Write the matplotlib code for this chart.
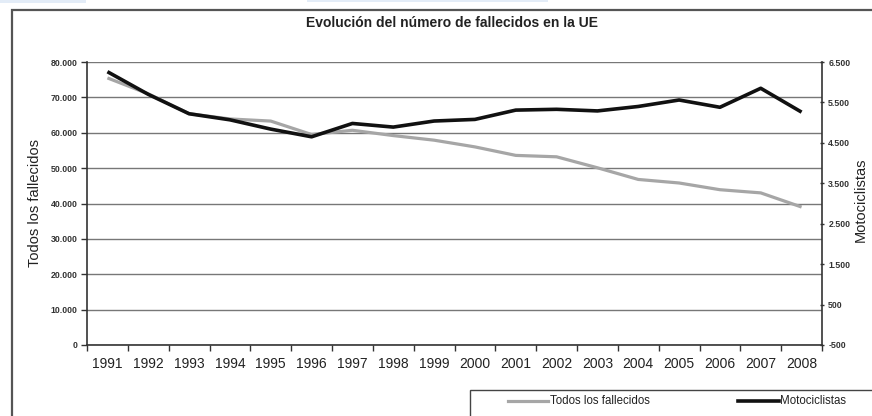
import numpy as np
import matplotlib
matplotlib.use('Agg')
import matplotlib.pyplot as plt
from matplotlib.patches import Rectangle
from matplotlib.lines import Line2D

plt.rcParams['font.family'] = ['Liberation Sans', 'DejaVu Sans']

# data
years = ['1991', '1992', '1993', '1994', '1995', '1996', '1997', '1998', '1999',
         '2000', '2001', '2002', '2003', '2004', '2005', '2006', '2007', '2008']
todos = [75500, 71000, 65400, 63900, 63300, 59500, 60700, 59200, 57900,
         56000, 53600, 53200, 50100, 46800, 45800, 43900, 43000, 39000]
moto = [6260, 5700, 5220, 5070, 4840, 4650, 4980, 4890, 5040,
        5080, 5310, 5330, 5290, 5400, 5560, 5380, 5850, 5260]

left_ticks = [0, 10000, 20000, 30000, 40000, 50000, 60000, 70000, 80000]
left_labels = ['0', '10.000', '20.000', '30.000', '40.000', '50.000', '60.000', '70.000', '80.000']
right_ticks = [-500, 500, 1500, 2500, 3500, 4500, 5500, 6500]
right_labels = ['-500', '500', '1.500', '2.500', '3.500', '4.500', '5.500', '6.500']

W, H = 872, 416
fig = plt.figure(figsize=(W / 100, H / 100), dpi=100)

def fx(px):
    return px / W

def fy(py):
    return 1 - py / H

# outer frame of the chart
fig.add_artist(Rectangle((fx(11.5), fy(430)), fx(880) - fx(11.5), fy(10) - fy(430),
                         transform=fig.transFigure, fill=False, edgecolor='#555555', lw=1.6))
# page bits at the very top
fig.add_artist(Rectangle((0, fy(3)), fx(86), fy(0) - fy(3), transform=fig.transFigure,
                         color='#e3ecf7', lw=0))
fig.add_artist(Rectangle((fx(307), fy(2)), fx(241), fy(0) - fy(2), transform=fig.transFigure,
                         color='#e3ecf7', lw=0))

ax = fig.add_axes([fx(87), fy(345), fx(822) - fx(87), fy(62) - fy(345)])
ax2 = ax.twinx()

x = np.arange(len(years))
ax.plot(x, todos, color='#a6a6a6', lw=2.3, solid_joinstyle='round', solid_capstyle='butt', zorder=3)
ax2.plot(x, moto, color='#111111', lw=2.6, solid_joinstyle='round', solid_capstyle='butt', zorder=4)

ax.set_xlim(-0.5, len(years) - 0.5)
ax.set_ylim(0, 80000)
ax2.set_ylim(-500, 6500)

ax.set_yticks(left_ticks)
ax.set_yticklabels(left_labels, fontsize=6.3, fontweight='bold', color='#333333')
ax2.set_yticks(right_ticks)
ax2.set_yticklabels(right_labels, fontsize=6.3, fontweight='bold', color='#333333')

ax.set_xticks(x)
ax.set_xticklabels(years, fontsize=10, color='#222222')
ax.set_xticks(np.arange(len(years) + 1) - 0.5, minor=True)
ax.tick_params(axis='x', which='major', length=0, pad=9)
ax.tick_params(axis='x', which='minor', length=4, width=1, color='#333333', direction='out')
ax.tick_params(axis='y', length=4, width=1, color='#333333', pad=3)
ax2.tick_params(axis='y', length=3, width=1, color='#333333', direction='inout', pad=3)

ax.grid(axis='y', color='#777777', lw=1.0)
ax.set_axisbelow(True)

for a in (ax, ax2):
    a.spines['top'].set_visible(False)
    a.patch.set_visible(False)
ax2.spines['left'].set_visible(False)
ax2.spines['bottom'].set_visible(False)
ax.spines['right'].set_visible(False)
ax.spines['left'].set_color('#333333')
ax.spines['bottom'].set_color('#333333')
ax2.spines['right'].set_color('#333333')
ax.spines['left'].set_linewidth(1.2)
ax.spines['bottom'].set_linewidth(1.2)
ax2.spines['right'].set_linewidth(1.2)

fig.text(fx(452), fy(23), 'Evolución del número de fallecidos en la UE', ha='center', va='center',
         fontsize=10, fontweight='bold', color='#222222')
fig.text(fx(35), fy(203), 'Todos los fallecidos', rotation=90, ha='center', va='center',
         fontsize=10.5, color='#222222')
fig.text(fx(861), fy(200), 'Motociclistas', rotation=90, ha='center', va='center',
         fontsize=10.5, color='#222222')

# legend box, cut off by the bottom/right edge like the original
fig.add_artist(Rectangle((fx(470), fy(430)), fx(880) - fx(470), fy(390) - fy(430),
                         transform=fig.transFigure, fill=False, edgecolor='#444444', lw=1.0))
fig.add_artist(Line2D([fx(508), fx(548)], [fy(401), fy(401)], transform=fig.transFigure,
                      color='#a6a6a6', lw=2.3))
fig.text(fx(550), fy(401), 'Todos los fallecidos', ha='left', va='center', fontsize=8.3, color='#222222')
fig.add_artist(Line2D([fx(738), fx(779)], [fy(401), fy(401)], transform=fig.transFigure,
                      color='#111111', lw=2.6))
fig.text(fx(780), fy(401), 'Motociclistas', ha='left', va='center', fontsize=8.3, color='#222222')

fig.savefig('out.png', dpi=100)
